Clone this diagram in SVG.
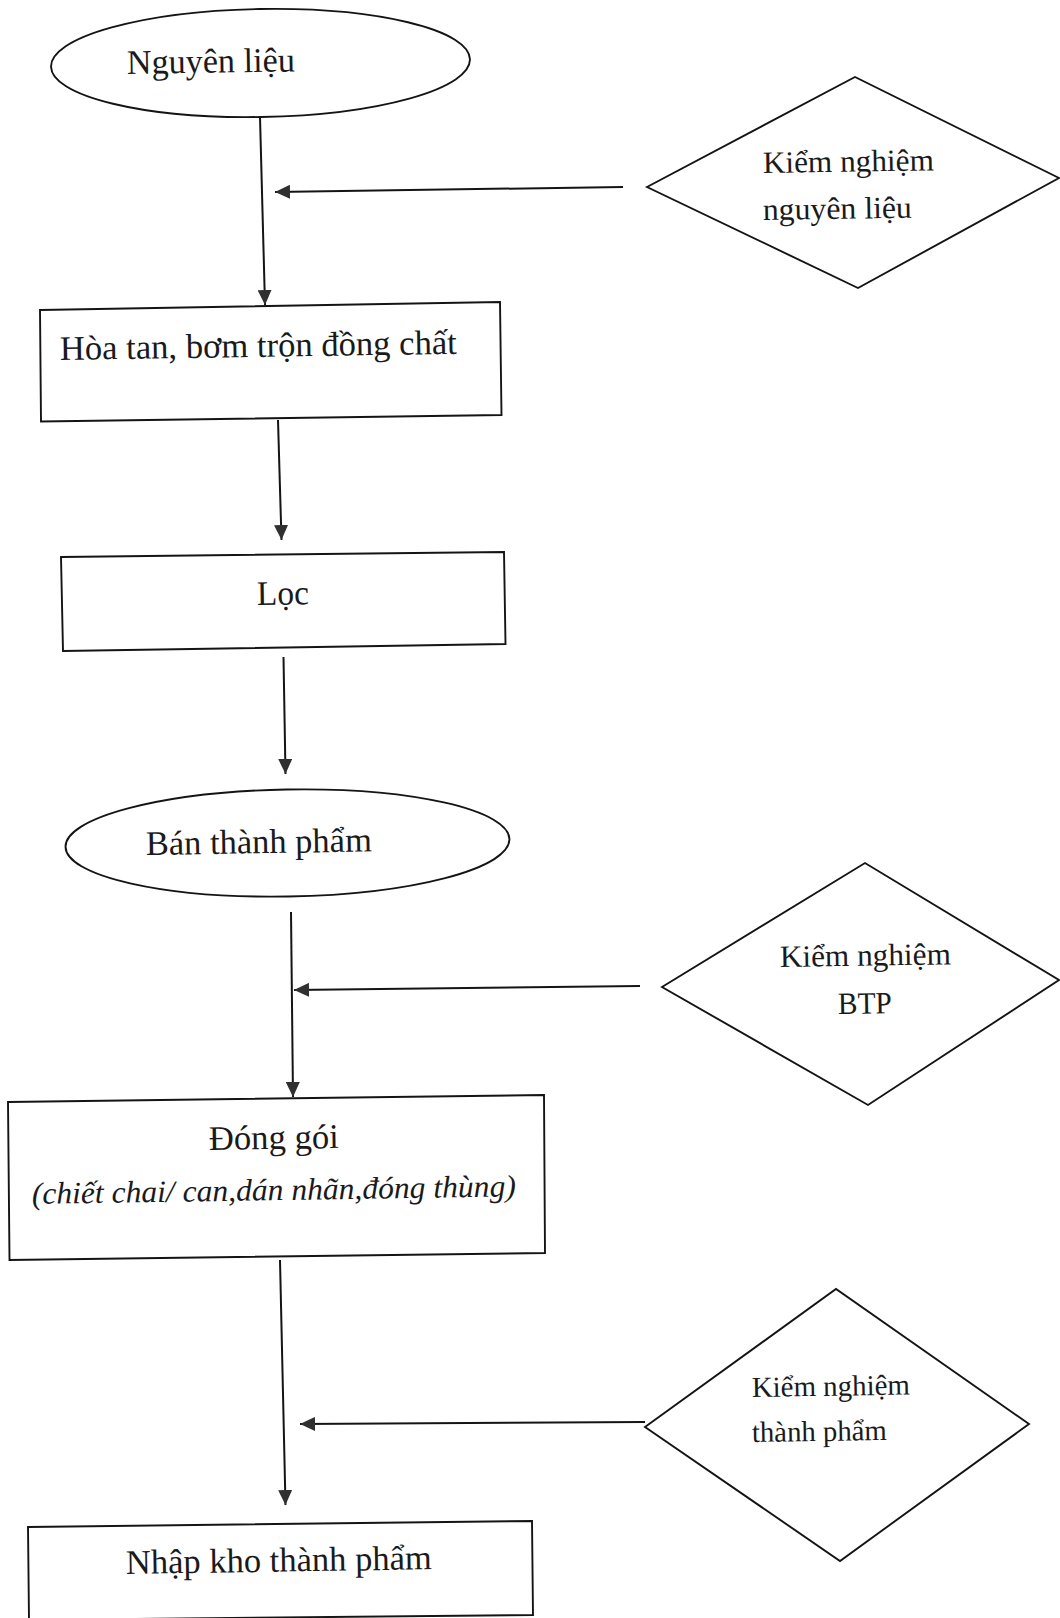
<svg xmlns="http://www.w3.org/2000/svg" width="1060" height="1618" viewBox="0 0 1060 1618">
<style>
.shape{fill:none;stroke:#141414;stroke-width:1.9;stroke-linejoin:miter}
.conn{fill:none;stroke:#141414;stroke-width:2}
.lbl{font-family:"Liberation Serif","Times New Roman",serif;fill:#1a1a1a}
.big{font-size:34.5px}
.dia{font-size:31px}
.dia3{font-size:29px}
.ital{font-style:italic;font-size:31px}
</style>
<defs>
<marker id="ah" viewBox="0 0 15 14" refX="15" refY="7" markerWidth="15" markerHeight="14" markerUnits="userSpaceOnUse" orient="auto">
<path d="M0,0 L15,7 L0,14 z" fill="#303030"/>
</marker>
</defs>
<rect x="0" y="0" width="1060" height="1618" fill="#ffffff"/>

<g id="connectors">
<line class="conn" x1="260" y1="117" x2="265" y2="305" marker-end="url(#ah)"/>
<line class="conn" x1="623" y1="187" x2="275" y2="192" marker-end="url(#ah)"/>
<line class="conn" x1="278" y1="420" x2="281.5" y2="540" marker-end="url(#ah)"/>
<line class="conn" x1="283.5" y1="657" x2="285.5" y2="774" marker-end="url(#ah)"/>
<line class="conn" x1="291" y1="912" x2="293" y2="1097" marker-end="url(#ah)"/>
<line class="conn" x1="640" y1="986" x2="294" y2="990" marker-end="url(#ah)"/>
<line class="conn" x1="280" y1="1260" x2="285.5" y2="1505" marker-end="url(#ah)"/>
<line class="conn" x1="645" y1="1422" x2="300" y2="1424" marker-end="url(#ah)"/>
</g>

<g id="node-nguyen-lieu">
<ellipse class="shape" cx="260.5" cy="63" rx="209.5" ry="54" transform="rotate(-1 260.5 63)"/>
<text class="lbl big" x="127" y="74" textLength="168" lengthAdjust="spacingAndGlyphs" transform="rotate(-0.9 127 74)">Nguyên liệu</text>
</g>

<g id="node-kiem-nghiem-nl">
<polygon class="shape" points="647,187 855,77 1059,178 858,288"/>
<text class="lbl dia" x="763" y="173" textLength="171" lengthAdjust="spacingAndGlyphs" transform="rotate(-0.9 763 173)">Kiểm nghiệm</text>
<text class="lbl dia" x="763" y="220" textLength="149" lengthAdjust="spacingAndGlyphs" transform="rotate(-0.9 763 220)">nguyên liệu</text>
</g>

<g id="node-hoa-tan">
<polygon class="shape" points="40,310 500,302 501.5,415 41,421.5"/>
<text class="lbl big" x="60" y="360" textLength="397" lengthAdjust="spacingAndGlyphs" transform="rotate(-0.9 60 360)">Hòa tan, bơm trộn đồng chất</text>
</g>

<g id="node-loc">
<polygon class="shape" points="61,557 504,552 505.5,644 63,651"/>
<text class="lbl big" x="257" y="605" textLength="52" lengthAdjust="spacingAndGlyphs" transform="rotate(-0.9 257 605)">Lọc</text>
</g>

<g id="node-ban-thanh-pham">
<ellipse class="shape" cx="287.5" cy="843" rx="222" ry="53.5" transform="rotate(-1 287.5 843)"/>
<text class="lbl big" x="146" y="855" textLength="226" lengthAdjust="spacingAndGlyphs" transform="rotate(-0.9 146 855)">Bán thành phẩm</text>
</g>

<g id="node-kiem-nghiem-btp">
<polygon class="shape" points="662,987 865,863 1059,980 868,1105"/>
<text class="lbl dia" x="780" y="967" textLength="171" lengthAdjust="spacingAndGlyphs" transform="rotate(-0.9 780 967)">Kiểm nghiệm</text>
<text class="lbl dia" x="838" y="1014" textLength="54" lengthAdjust="spacingAndGlyphs" transform="rotate(-0.9 838 1014)">BTP</text>
</g>

<g id="node-dong-goi">
<polygon class="shape" points="8,1102 544,1095 545,1253 9.5,1260"/>
<text class="lbl big" x="209" y="1150" textLength="130" lengthAdjust="spacingAndGlyphs" transform="rotate(-0.9 209 1150)">Đóng gói</text>
<text class="lbl ital" x="32" y="1204" textLength="484" lengthAdjust="spacingAndGlyphs" transform="rotate(-0.9 32 1204)">(chiết chai/ can,dán nhãn,đóng thùng)</text>
</g>

<g id="node-kiem-nghiem-tp">
<polygon class="shape" points="645,1427 836,1289 1029,1424 840,1561"/>
<text class="lbl dia3" x="752" y="1397" textLength="158" lengthAdjust="spacingAndGlyphs" transform="rotate(-0.9 752 1397)">Kiểm nghiệm</text>
<text class="lbl dia3" x="752" y="1442" textLength="135" lengthAdjust="spacingAndGlyphs" transform="rotate(-0.9 752 1442)">thành phẩm</text>
</g>

<g id="node-nhap-kho">
<polygon class="shape" points="28,1527 532,1521 533,1615 29,1620"/>
<text class="lbl big" x="126" y="1574" textLength="306" lengthAdjust="spacingAndGlyphs" transform="rotate(-0.9 126 1574)">Nhập kho thành phẩm</text>
</g>
</svg>
